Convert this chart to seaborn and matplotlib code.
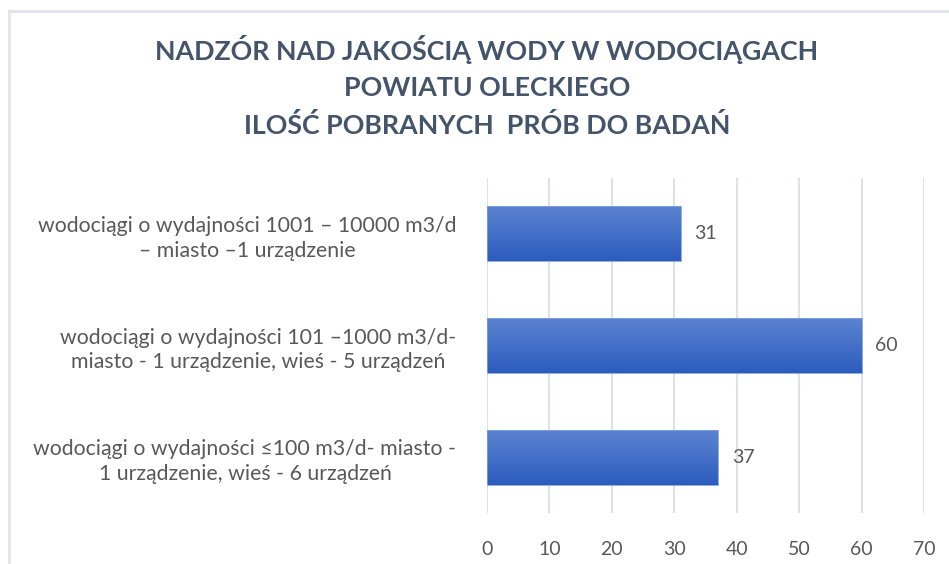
import numpy as np
import pandas as pd
import matplotlib
matplotlib.use("Agg")
import matplotlib.pyplot as plt
import seaborn as sns
from matplotlib.patches import Rectangle
from matplotlib.colors import LinearSegmentedColormap

categories = [
    "wodociągi o wydajności 1001 – 10000 m3/d\n– miasto –1 urządzenie",
    "wodociągi o wydajności 101 –1000 m3/d-\nmiasto - 1 urządzenie, wieś - 5 urządzeń",
    "wodociągi o wydajności ≤100 m3/d- miasto -\n1 urządzenie, wieś - 6 urządzeń",
]
values = [31, 60, 37]
x_ticks = [0, 10, 20, 30, 40, 50, 60, 70]
title_lines = ["NADZÓR NAD JAKOŚCIĄ WODY W WODOCIĄGACH",
               "POWIATU OLECKIEGO",
               "ILOŚĆ POBRANYCH  PRÓB DO BADAŃ"]

sns.set_theme(style="white")
plt.rcParams['font.family'] = ['Lato', 'DejaVu Sans']

df = pd.DataFrame({"cat": categories, "val": values})

fig = plt.figure(figsize=(9.49, 5.64), dpi=100)
fig.patch.set_facecolor("white")
# chart border
fig.add_artist(Rectangle((9/949, -0.1), 2.0, 1 - 11/564 + 0.1, transform=fig.transFigure,
                         fill=False, edgecolor="#e1e5ec", linewidth=2.2))

ax = fig.add_axes([487/949, 1 - 513/564, (924 - 487)/949, (513 - 178)/564])
sns.barplot(data=df, y="cat", x="val", orient="h", color="#4472C4", width=0.49,
            ax=ax, saturation=1)

# gradient fill
grad = np.linspace(0, 1, 256).reshape(-1, 1)
cmap = LinearSegmentedColormap.from_list("g", ["#5b84d2", "#2c5cbd"])
for p in ax.patches:
    x0, y0 = p.get_x(), p.get_y()
    w, h = p.get_width(), p.get_height()
    p.set_facecolor("none")
    p.set_edgecolor("#7f9fdc")
    p.set_linewidth(0.6)
    im = ax.imshow(grad, extent=[x0, x0 + w, y0 + h, y0], aspect="auto", cmap=cmap,
                   origin="upper", zorder=p.get_zorder() - 0.1)
    im.set_clip_path(p)
ax.set_xlim(0, 70)
ax.set_ylim(2.5, -0.5)

for i, v in enumerate(values):
    ax.text(v + 2.2, i, str(v), va="center", ha="left", fontsize=14, color="#595959")

ax.set_xticks(x_ticks)
ax.set_xticklabels([str(t) for t in x_ticks])
ax.xaxis.grid(True, color="#dde2ea", linewidth=1.5)
ax.set_axisbelow(True)
ax.tick_params(axis="x", length=0, pad=20, labelsize=14, labelcolor="#595959")
ax.tick_params(axis="y", length=0, pad=22, labelsize=15.3, labelcolor="#595959")
for lab in ax.get_yticklabels():
    lab.set_multialignment("center")
    lab.set_linespacing(1.3)
for s in ax.spines.values():
    s.set_visible(False)
ax.set_xlabel("")
ax.set_ylabel("")

ys = [50, 88, 126]
for t, y in zip(title_lines, ys):
    fig.text(487/949, 1 - y/564, t, ha="center", va="center", fontsize=19.3,
             fontweight="bold", color="#44546a")

fig.savefig("out.png", dpi=100)
